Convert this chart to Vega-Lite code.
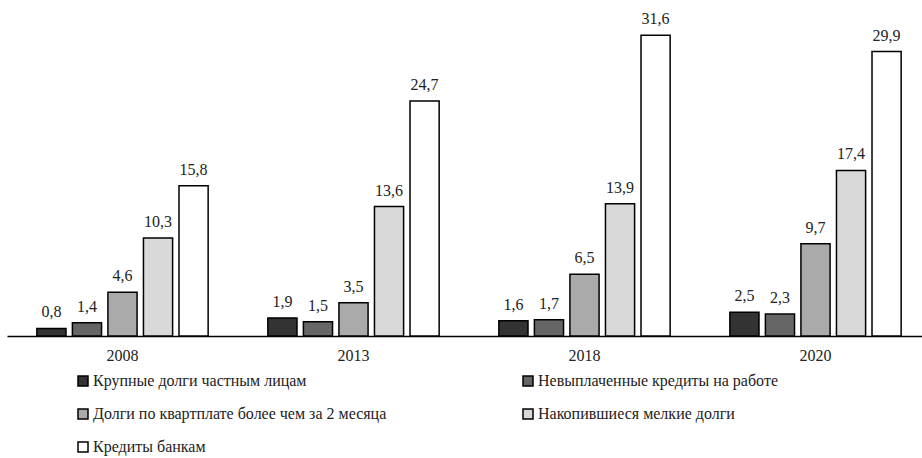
{
  "$schema": "https://vega.github.io/schema/vega-lite/v6.json",
  "width": 915,
  "height": 333,
  "autosize": {"type": "none"},
  "padding": {"left": 7, "top": 3, "right": 0, "bottom": 122},
  "background": "white",
  "config": {
    "view": {"stroke": null},
    "font": "Times New Roman, Liberation Serif, DejaVu Serif, serif",
    "locale": {"number": {"decimal": ",", "thousands": " ", "grouping": [3], "currency": ["", ""]}}
  },
  "data": {
    "values": [
      {"year": "2008", "cat": "Крупные долги частным лицам", "ord": 1, "v": 0.8},
      {"year": "2008", "cat": "Невыплаченные кредиты на работе", "ord": 2, "v": 1.4},
      {"year": "2008", "cat": "Долги по квартплате более чем за 2 месяца", "ord": 3, "v": 4.6},
      {"year": "2008", "cat": "Накопившиеся мелкие долги", "ord": 4, "v": 10.3},
      {"year": "2008", "cat": "Кредиты банкам", "ord": 5, "v": 15.8},
      {"year": "2013", "cat": "Крупные долги частным лицам", "ord": 1, "v": 1.9},
      {"year": "2013", "cat": "Невыплаченные кредиты на работе", "ord": 2, "v": 1.5},
      {"year": "2013", "cat": "Долги по квартплате более чем за 2 месяца", "ord": 3, "v": 3.5},
      {"year": "2013", "cat": "Накопившиеся мелкие долги", "ord": 4, "v": 13.6},
      {"year": "2013", "cat": "Кредиты банкам", "ord": 5, "v": 24.7},
      {"year": "2018", "cat": "Крупные долги частным лицам", "ord": 1, "v": 1.6},
      {"year": "2018", "cat": "Невыплаченные кредиты на работе", "ord": 2, "v": 1.7},
      {"year": "2018", "cat": "Долги по квартплате более чем за 2 месяца", "ord": 3, "v": 6.5},
      {"year": "2018", "cat": "Накопившиеся мелкие долги", "ord": 4, "v": 13.9},
      {"year": "2018", "cat": "Кредиты банкам", "ord": 5, "v": 31.6},
      {"year": "2020", "cat": "Крупные долги частным лицам", "ord": 1, "v": 2.5},
      {"year": "2020", "cat": "Невыплаченные кредиты на работе", "ord": 2, "v": 2.3},
      {"year": "2020", "cat": "Долги по квартплате более чем за 2 месяца", "ord": 3, "v": 9.7},
      {"year": "2020", "cat": "Накопившиеся мелкие долги", "ord": 4, "v": 17.4},
      {"year": "2020", "cat": "Кредиты банкам", "ord": 5, "v": 29.9}
    ]
  },
  "encoding": {
    "x": {
      "field": "year", "type": "nominal",
      "scale": {"range": [0, 924], "paddingInner": 0, "paddingOuter": 0},
      "axis": {
        "title": null, "labelAngle": 0, "ticks": false, "labelPadding": 11,
        "labelFontSize": 16, "labelColor": "#222",
        "labelFont": "Times New Roman, Liberation Serif, DejaVu Serif, serif",
        "domainColor": "#000", "domainWidth": 1.5, "grid": false
      }
    },
    "xOffset": {
      "field": "cat", "type": "nominal", "sort": {"field": "ord"},
      "scale": {"paddingInner": 0.18, "paddingOuter": 0.84}
    },
    "y": {
      "field": "v", "type": "quantitative",
      "scale": {"domain": [0, 35]},
      "axis": null
    }
  },
  "layer": [
    {
      "mark": {"type": "bar", "stroke": "#000", "strokeWidth": 1.5},
      "encoding": {
        "fill": {
          "field": "cat", "type": "nominal", "sort": {"field": "ord"},
          "scale": {
            "domain": ["Крупные долги частным лицам", "Невыплаченные кредиты на работе", "Долги по квартплате более чем за 2 месяца", "Накопившиеся мелкие долги", "Кредиты банкам"],
            "range": ["#333333", "#666666", "#aaaaaa", "#d9d9d9", "#ffffff"]
          },
          "legend": {
            "orient": "none", "legendX": 68, "legendY": 370,
            "title": null, "columns": 2, "direction": "horizontal",
            "symbolType": "square", "symbolSize": 100, "symbolStrokeColor": "#000",
            "symbolStrokeWidth": 1.5, "symbolOpacity": 1,
            "labelFontSize": 16, "labelFont": "Times New Roman, Liberation Serif, DejaVu Serif, serif",
            "labelColor": "#222",
            "labelOffset": 2, "rowPadding": 17, "columnPadding": 133, "labelLimit": 500
          }
        }
      }
    },
    {
      "mark": {"type": "text", "baseline": "bottom", "dy": -8, "fontSize": 16,
               "font": "Times New Roman, Liberation Serif, DejaVu Serif, serif", "color": "#222"},
      "encoding": {
        "text": {"field": "v", "type": "quantitative", "format": ".1f"}
      }
    }
  ]
}
